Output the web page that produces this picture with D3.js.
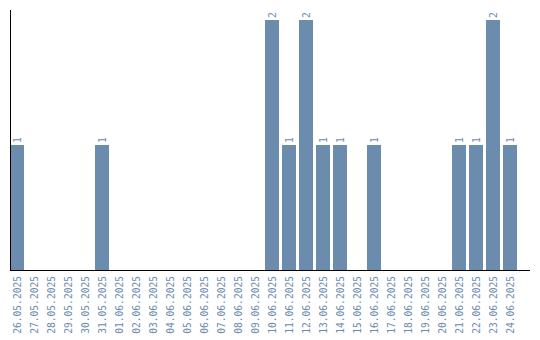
<!DOCTYPE html>
<html>
<head>
<meta charset="utf-8">
<script src="https://cdn.jsdelivr.net/npm/d3@7"></script>
<style>
  body { margin: 0; background: #fff; }
  text { font-family: "DejaVu Sans Mono", monospace; fill: #6b8cad; }
</style>
</head>
<body>
<div id="chart"></div>
<script>
const dates = [
  "26.05.2025", "27.05.2025", "28.05.2025", "29.05.2025", "30.05.2025",
  "31.05.2025", "01.06.2025", "02.06.2025", "03.06.2025", "04.06.2025",
  "05.06.2025", "06.06.2025", "07.06.2025", "08.06.2025", "09.06.2025",
  "10.06.2025", "11.06.2025", "12.06.2025", "13.06.2025", "14.06.2025",
  "15.06.2025", "16.06.2025", "17.06.2025", "18.06.2025", "19.06.2025",
  "20.06.2025", "21.06.2025", "22.06.2025", "23.06.2025", "24.06.2025"
];
const counts = [1, 0, 0, 0, 0, 1, 0, 0, 0, 0, 0, 0, 0, 0, 0, 2, 1, 2, 1, 1, 0, 1, 0, 0, 0, 0, 1, 1, 2, 1];

const width = 540, height = 340;
const margin = {top: 10, right: 10, bottom: 70, left: 10};
const color = "#6b8cad";

const data = dates.map((d, i) => ({date: d, value: counts[i]}));

const svg = d3.select("#chart").append("svg")
  .attr("width", width)
  .attr("height", height);

const x = d3.scaleBand()
  .domain(dates)
  .range([margin.left, 517])
  .paddingInner(3 / 17)
  .paddingOuter(0);

const y = d3.scaleLinear()
  .domain([0, d3.max(counts)])
  .range([height - margin.bottom, 20]);

// bars
svg.selectAll("rect.bar")
  .data(data.filter(d => d.value > 0))
  .join("rect")
  .attr("class", "bar")
  .attr("x", d => x(d.date))
  .attr("y", d => y(d.value))
  .attr("width", x.bandwidth())
  .attr("height", d => y(0) - y(d.value))
  .style("fill", color);

// value labels, rotated
svg.selectAll("text.val")
  .data(data.filter(d => d.value > 0))
  .join("text")
  .attr("class", "val")
  .attr("transform", d => `translate(${x(d.date) + x.bandwidth() / 2 + 3.5},${y(d.value) - 2}) rotate(-90)`)
  .attr("font-size", "9.6px")
  .text(d => d.value);

// axes lines
svg.append("line")
  .attr("x1", margin.left + 0.5).attr("x2", margin.left + 0.5)
  .attr("y1", margin.top).attr("y2", y(0))
  .attr("stroke", "#000");
svg.append("line")
  .attr("x1", margin.left).attr("x2", width - margin.right)
  .attr("y1", y(0) + 0.5).attr("y2", y(0) + 0.5)
  .attr("stroke", "#000");

// date labels
svg.selectAll("text.date")
  .data(dates)
  .join("text")
  .attr("class", "date")
  .attr("text-anchor", "end")
  .attr("transform", d => `translate(${x(d) + x.bandwidth() / 2 + 3.5},${y(0) + 6}) rotate(-90)`)
  .attr("font-size", "9.6px")
  .text(d => d);
</script>
</body>
</html>
